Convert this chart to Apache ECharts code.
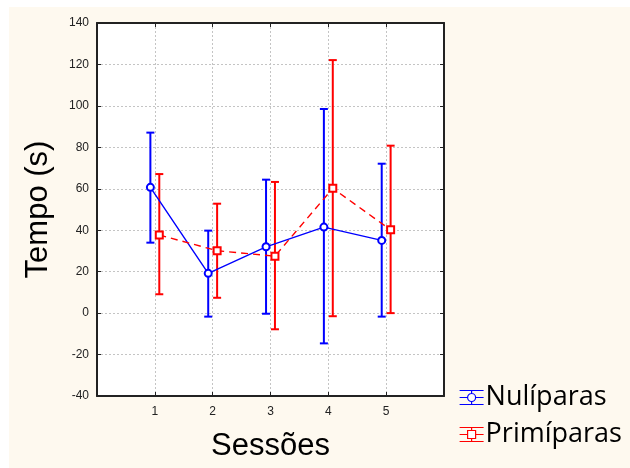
<!DOCTYPE html>
<html>
<head>
<meta charset="utf-8">
<script src="https://cdn.jsdelivr.net/npm/echarts@6/dist/echarts.min.js"></script>
<style>
  html, body { margin:0; padding:0; background:#fff; }
  #wrap { position:relative; width:630px; height:468px; background:#fff; }
  #bg { position:absolute; left:9px; top:7px; width:621px; height:461px; background:#fef9ef; }
  #chart { position:absolute; left:0; top:0; width:630px; height:468px; }
</style>
</head>
<body>
<div id="wrap"><div id="bg"></div><div id="chart"></div></div>
<script>
// ---- data ----
const sessions = [1, 2, 3, 4, 5];
const yTicks = [-40, -20, 0, 20, 40, 60, 80, 100, 120, 140];
const seriesNames = ['Nulíparas', 'Primíparas'];
const nulMean = [60.7, 19.2, 32.0, 41.5, 35.1];
const nulLow  = [34.0, -1.7, -0.3, -14.6, -1.7];
const nulHigh = [87.1, 39.8, 64.4, 98.5, 72.1];
const priMean = [37.7, 30.1, 27.5, 60.2, 40.2];
const priLow  = [9.1, 7.4, -7.8, -1.5, 0.0];
const priHigh = [67.1, 52.8, 63.3, 122.1, 80.8];

// ---- layout / style constants ----
const OFF = 0.077;
const BLUE = '#0000ff', RED = '#ff0000';
const FRAME = '#222';

function errRender(color) {
  return function (params, api) {
    const x = api.value(0);
    const pLo = api.coord([x, api.value(1)]);
    const pHi = api.coord([x, api.value(2)]);
    const hw = 4;
    const st = { stroke: color, lineWidth: 2 };
    return {
      type: 'group',
      children: [
        { type: 'line', shape: { x1: pHi[0], y1: pHi[1], x2: pLo[0], y2: pLo[1] }, style: st },
        { type: 'line', shape: { x1: pHi[0] - hw, y1: pHi[1], x2: pHi[0] + hw, y2: pHi[1] }, style: st },
        { type: 'line', shape: { x1: pLo[0] - hw, y1: pLo[1], x2: pLo[0] + hw, y2: pLo[1] }, style: st }
      ]
    };
  };
}

const iconCircle = 'path://M0,1H24M0,15H24M0,8H8M16,8H24M12,1V4M12,12V15M8,8A4,4,0,1,1,16,8A4,4,0,1,1,8,8Z';
const iconRect = 'path://M0,1H24M0,15H24M0,8H8M16,8H24M12,1V4M12,12V15M8,4H16V12H8Z';

const chart = echarts.init(document.getElementById('chart'), null, { renderer: 'canvas' });
const tickFont = { fontFamily: 'Liberation Sans, Arial, sans-serif', fontSize: 12, color: '#222' };

chart.setOption({
  backgroundColor: 'transparent',
  animation: false,
  grid: { left: 97, right: 186, top: 23, bottom: 72, show: true, backgroundColor: '#fff', borderWidth: 0 },
  legend: {
    orient: 'vertical', left: 454, top: 379, itemWidth: 24, itemHeight: 16, itemGap: 10,
    textStyle: { fontFamily: 'Open Sans, sans-serif', fontSize: 27, color: '#000', padding: [0, 0, 0, -3] },
    data: [
      { name: seriesNames[0], icon: iconCircle, itemStyle: { color: '#fff', borderColor: BLUE, borderWidth: 1.2 } },
      { name: seriesNames[1], icon: iconRect, itemStyle: { color: '#fff', borderColor: RED, borderWidth: 1.2 } }
    ]
  },
  xAxis: [{
    type: 'value', min: 0, max: 6, interval: 1,
    name: 'Sessões', nameLocation: 'middle', nameGap: 35,
    nameTextStyle: { fontFamily: 'Liberation Sans, Arial, sans-serif', fontSize: 31, color: '#000' },
    axisLine: { show: true, onZero: false, lineStyle: { color: FRAME, width: 2 } },
    axisTick: { show: true, inside: true, length: 4, lineStyle: { color: FRAME } },
    axisLabel: Object.assign({ margin: 10, formatter: v => (sessions.indexOf(v) >= 0 ? String(v) : '') }, tickFont),
    splitLine: { show: true, lineStyle: { color: '#c4c4c4', type: [2, 2], width: 1 } }
  }, {
    type: 'value', min: 0, max: 6, interval: 1, position: 'top',
    axisLine: { show: true, onZero: false, lineStyle: { color: FRAME, width: 2 } },
    axisTick: { show: true, inside: true, length: 4, lineStyle: { color: FRAME } },
    axisLabel: { show: false }, splitLine: { show: false }
  }],
  yAxis: [{
    type: 'value', min: yTicks[0], max: yTicks[yTicks.length - 1], interval: 20,
    name: 'Tempo (s)', nameLocation: 'middle', nameGap: 43, nameRotate: 90,
    nameTextStyle: { fontFamily: 'Liberation Sans, Arial, sans-serif', fontSize: 31, color: '#000' },
    axisLine: { show: true, onZero: false, lineStyle: { color: FRAME, width: 2 } },
    axisTick: { show: true, inside: true, length: 4, lineStyle: { color: FRAME } },
    axisLabel: Object.assign({ margin: 8 }, tickFont),
    splitLine: { show: true, lineStyle: { color: '#c4c4c4', type: [2, 2], width: 1 } }
  }, {
    type: 'value', min: yTicks[0], max: yTicks[yTicks.length - 1], interval: 20, position: 'right',
    axisLine: { show: true, onZero: false, lineStyle: { color: FRAME, width: 2 } },
    axisTick: { show: true, inside: true, length: 4, lineStyle: { color: FRAME } },
    axisLabel: { show: false }, splitLine: { show: false }
  }],
  series: [
    {
      type: 'custom', name: seriesNames[0] + ' err', renderItem: errRender(BLUE), z: 2,
      encode: { x: 0, y: [1, 2] },
      data: sessions.map((s, i) => [s - OFF, nulLow[i], nulHigh[i]])
    },
    {
      type: 'custom', name: seriesNames[1] + ' err', renderItem: errRender(RED), z: 2,
      encode: { x: 0, y: [1, 2] },
      data: sessions.map((s, i) => [s + OFF, priLow[i], priHigh[i]])
    },
    {
      type: 'line', name: seriesNames[0], z: 3,
      data: sessions.map((s, i) => [s - OFF, nulMean[i]]),
      symbol: 'emptyCircle', symbolSize: 7,
      lineStyle: { color: BLUE, width: 1.4 },
      itemStyle: { color: BLUE, borderWidth: 1.1 }
    },
    {
      type: 'line', name: seriesNames[1], z: 4,
      data: sessions.map((s, i) => [s + OFF, priMean[i]]),
      symbol: 'emptyRect', symbolSize: 7,
      lineStyle: { color: RED, width: 1.4, type: [7, 5] },
      itemStyle: { color: RED, borderWidth: 1.1 }
    }
  ]
});
</script>
</body>
</html>
